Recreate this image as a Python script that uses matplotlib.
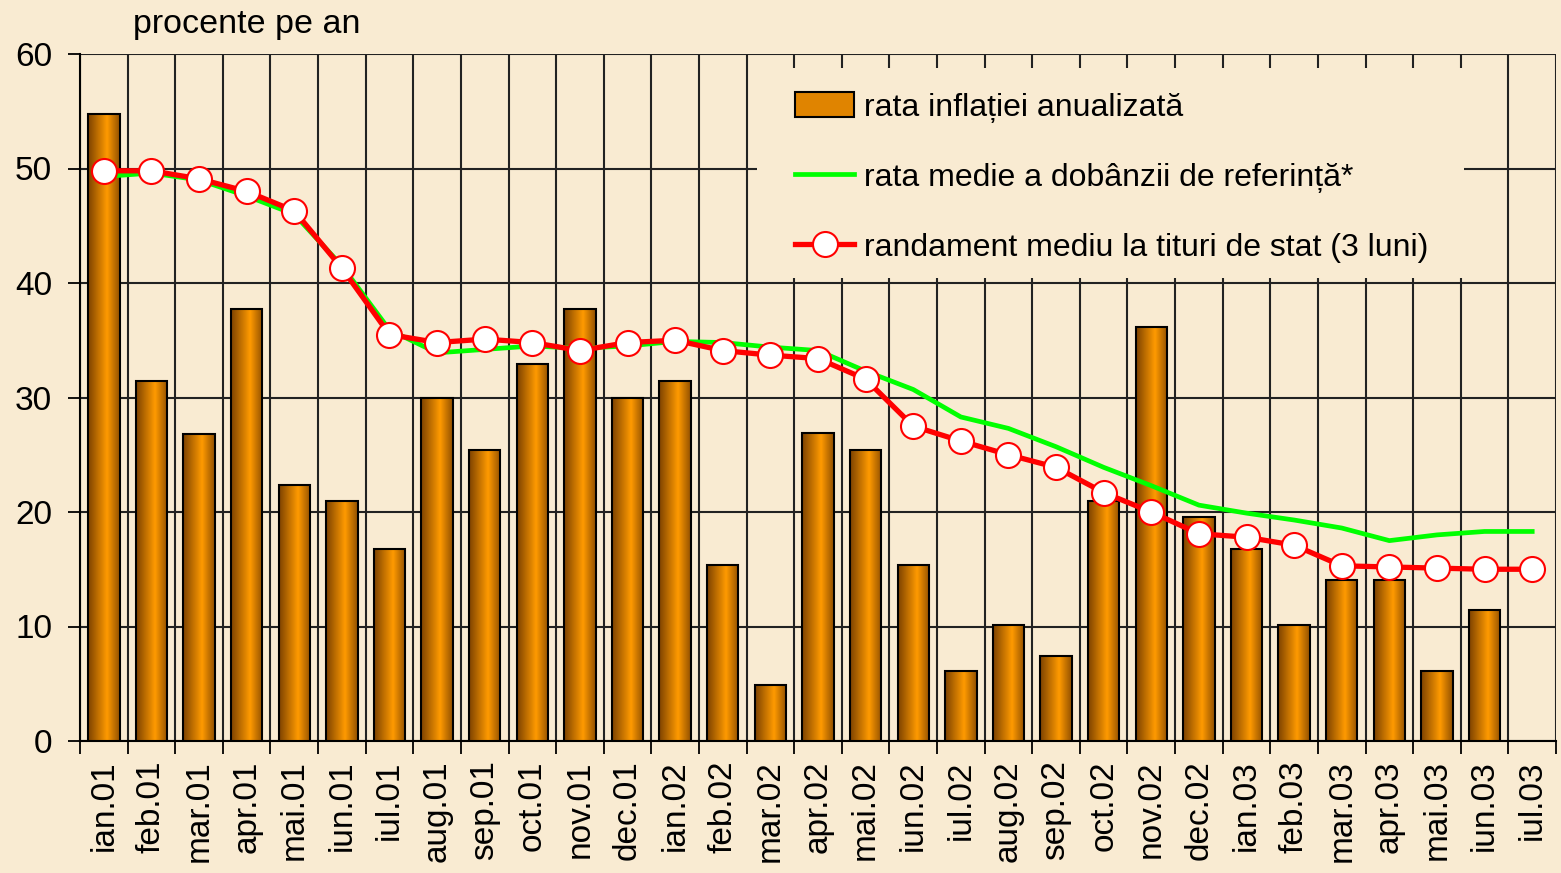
import matplotlib.pyplot as plt
import numpy as np
from matplotlib.colors import LinearSegmentedColormap
from matplotlib.patches import Patch, Rectangle
from matplotlib.lines import Line2D

months = ['ian.01', 'feb.01', 'mar.01', 'apr.01', 'mai.01', 'iun.01', 'iul.01',
          'aug.01', 'sep.01', 'oct.01', 'nov.01', 'dec.01',
          'ian.02', 'feb.02', 'mar.02', 'apr.02', 'mai.02', 'iun.02', 'iul.02',
          'aug.02', 'sep.02', 'oct.02', 'nov.02', 'dec.02',
          'ian.03', 'feb.03', 'mar.03', 'apr.03', 'mai.03', 'iun.03', 'iul.03']

# rata inflatiei anualizata (no value for iul.03)
inflatie = [54.8, 31.4, 26.8, 37.7, 22.4, 21.0, 16.8, 30.0, 25.4, 32.9, 37.7, 30.0,
            31.4, 15.4, 4.9, 26.9, 25.4, 15.4, 6.1, 10.1, 7.4, 21.0, 36.2, 19.6,
            16.8, 10.1, 14.1, 14.1, 6.1, 11.4]

# rata medie a dobanzii de referinta
dobanda = [49.3, 49.6, 49.0, 47.6, 46.0, 41.5, 35.9, 33.9, 34.2, 34.5, 34.3, 34.5,
           34.9, 34.8, 34.4, 34.1, 32.3, 30.7, 28.3, 27.3, 25.7, 23.9, 22.3, 20.6,
           19.9, 19.3, 18.6, 17.5, 18.0, 18.3, 18.3]

# randament mediu la titluri de stat (3 luni)
randament = [49.8, 49.8, 49.1, 48.0, 46.3, 41.3, 35.5, 34.8, 35.1, 34.8, 34.1, 34.8,
             35.0, 34.1, 33.7, 33.4, 31.6, 27.5, 26.2, 25.0, 23.9, 21.7, 20.0, 18.1,
             17.8, 17.1, 15.3, 15.2, 15.1, 15.0, 15.0]

bg = '#f9ebd2'
plt.rcParams['font.family'] = ['Liberation Sans', 'DejaVu Sans']

fig = plt.figure(figsize=(15.61, 8.73), dpi=100, facecolor=bg)
ax = fig.add_axes([80 / 1561, 1 - 741 / 873, 1476 / 1561, 687 / 873])
ax.set_facecolor(bg)

x = np.arange(len(months))
bars = ax.bar(x[:len(inflatie)], inflatie, width=0.66, facecolor='#ff9900',
              edgecolor='black', linewidth=1.5, zorder=3)

# orange/brown horizontal gradient inside each bar
cmap = LinearSegmentedColormap.from_list('bar', [(0, '#7e4300'), (0.6, '#ff9a00'), (1, '#935100')])
grad = np.linspace(0, 1, 64).reshape(1, -1)
for b in bars:
    bx, by = b.get_x(), b.get_y()
    im = ax.imshow(grad, cmap=cmap, aspect='auto', zorder=3.1,
                   extent=[bx, bx + b.get_width(), by, by + b.get_height()])
    im.set_clip_path(b)
    b.set_facecolor('none')
    b.set_zorder(3.2)

ax.plot(x, dobanda, color='#00ff00', lw=3.4, zorder=4)
ax.plot(x, randament, color='#ff0000', lw=3.8, marker='o', markersize=18,
        markerfacecolor='white', markeredgecolor='#ff0000', markeredgewidth=1.5, zorder=5)

ax.set_xlim(-0.5, len(months) - 0.5)
ax.set_ylim(0, 60)
ax.set_yticks(range(0, 61, 10))
ax.set_xticks(np.arange(-0.5, len(months), 1))
ax.set_xticklabels([])
ax.set_xticks(x, minor=True)
ax.set_xticklabels(months, minor=True, rotation=90, fontsize=24)
ax.tick_params(axis='x', which='major', direction='out', length=9, width=1.3, color='black')
ax.tick_params(axis='x', which='minor', length=0, pad=14)
ax.tick_params(axis='y', direction='out', length=9, width=1.3, pad=11, labelsize=24)
ax.grid(True, which='major', color='#222222', lw=1.5, zorder=1)
for s in ['top', 'right']:
    ax.spines[s].set_visible(False)
for s in ['left', 'bottom']:
    ax.spines[s].set_linewidth(1.5)

fig.text(133 / 1561, 1 - 24 / 873, 'procente pe an', fontsize=24.5, va='center')

# legend area hides the grid behind it
ax.add_patch(Rectangle((0.459, 0.674), 0.479, 0.306, transform=ax.transAxes,
                       facecolor=bg, edgecolor='none', zorder=2))

handles = [Patch(facecolor='#e08400', edgecolor='black', lw=1.5),
           Line2D([], [], color='#00ff00', lw=3.4),
           Line2D([], [], color='#ff0000', lw=3.8, marker='o', markersize=18,
                  markerfacecolor='white', markeredgecolor='#ff0000', markeredgewidth=1.5)]
labels = ['rata inflației anualizată', 'rata medie a dobânzii de referință*',
          'randament mediu la tituri de stat (3 luni)']
leg = ax.legend(handles, labels, loc='upper left', bbox_to_anchor=(0.4844, 0.944),
                frameon=False, handlelength=1.85, handleheight=0.8, handletextpad=0.32,
                labelspacing=1.24, borderpad=0, borderaxespad=0, fontsize=23)
leg.set_zorder(6)

fig.savefig('out.png', dpi=100, facecolor=bg)
